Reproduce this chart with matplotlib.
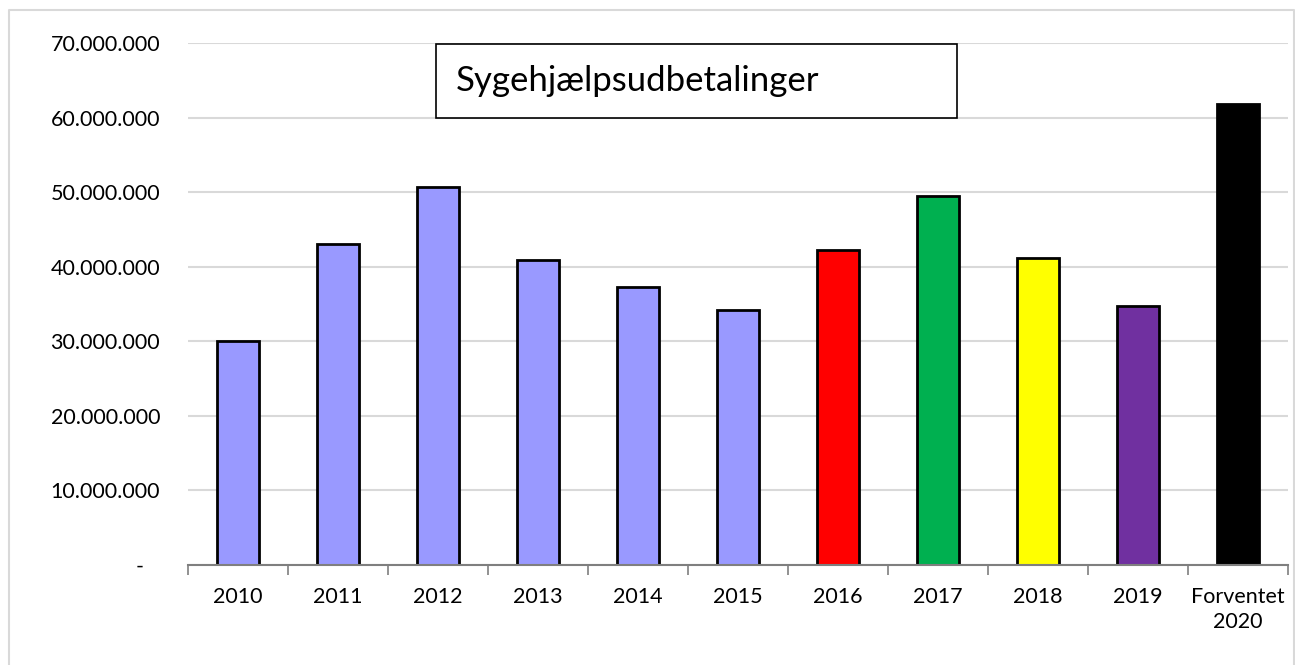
import matplotlib.pyplot as plt
from matplotlib.patches import Rectangle
from matplotlib.lines import Line2D
import matplotlib.transforms as mtrans
import numpy as np

# data
categories = ['2010', '2011', '2012', '2013', '2014', '2015',
              '2016', '2017', '2018', '2019', 'Forventet\n2020']
values = [30.0e6, 43.0e6, 50.7e6, 40.9e6, 37.3e6, 34.2e6,
          42.3e6, 49.5e6, 41.1e6, 34.7e6, 61.8e6]
bar_colors = ['#9999FF'] * 6 + ['#FF0000', '#00B050', '#FFFF00', '#7030A0', '#000000']
title = 'Sygehjælpsudbetalinger'

W, H = 1295, 665
plt.rcParams['font.family'] = ['Lato', 'DejaVu Sans']

fig = plt.figure(figsize=(W / 100, H / 100), dpi=100)
ax = fig.add_axes([188 / W, 1 - 564.5 / H, 1100 / W, (564.5 - 43.3) / H])

x = np.arange(len(categories))
ax.bar(x, values, width=0.42, color=bar_colors, edgecolor='black', linewidth=2, zorder=3)

ax.set_xlim(-0.5, len(categories) - 0.5)
ax.set_ylim(0, 70e6)

yt = np.arange(0, 70e6 + 1, 10e6)
ax.set_yticks(yt)
def fmt(v):
    if v == 0:
        return '-'
    return f'{int(v):,}'.replace(',', '.')
ax.set_yticklabels([fmt(v) for v in yt], fontsize=15.5)
ax.tick_params(axis='y', length=0, pad=20)
ax.yaxis.grid(True, color='#d9d9d9', linewidth=1.5, zorder=0)
# move the zero dash a bit left, like the accounting format
zl = ax.get_yticklabels()[0]
zl.set_transform(zl.get_transform() + mtrans.ScaledTranslation(-17 / 100, 0, fig.dpi_scale_trans))

# category boundaries get the ticks, centers get the labels
ax.set_xticks(np.arange(-0.5, len(categories), 1.0))
ax.set_xticklabels([])
ax.set_xticks(x, minor=True)
ax.set_xticklabels(categories, minor=True, fontsize=15.5, linespacing=1.3)
ax.tick_params(axis='x', which='major', length=7, width=1.2, color='#7f7f7f', direction='out')
ax.tick_params(axis='x', which='minor', length=0, pad=16)

for s in ['top', 'right', 'left']:
    ax.spines[s].set_visible(False)
ax.spines['bottom'].set_color('#7f7f7f')
ax.spines['bottom'].set_linewidth(1.5)
ax.spines['bottom'].set_zorder(4)

# title box
fig.patches.append(Rectangle((436 / W, 1 - 118 / H), (957 - 436) / W, (118 - 44) / H,
                             transform=fig.transFigure, facecolor='white',
                             edgecolor='black', linewidth=1.2, zorder=5))
fig.text(456 / W, 1 - 81 / H, title, fontsize=25, va='center', ha='left', zorder=6)

# light chart-area border (left, top, right)
bx = [9 / W, 9 / W, 1294 / W, 1294 / W]
by = [0, 1 - 10 / H, 1 - 10 / H, 0]
fig.lines.append(Line2D(bx, by, transform=fig.transFigure, color='#d9d9d9', linewidth=1.5))

fig.savefig('out.png', dpi=100)
